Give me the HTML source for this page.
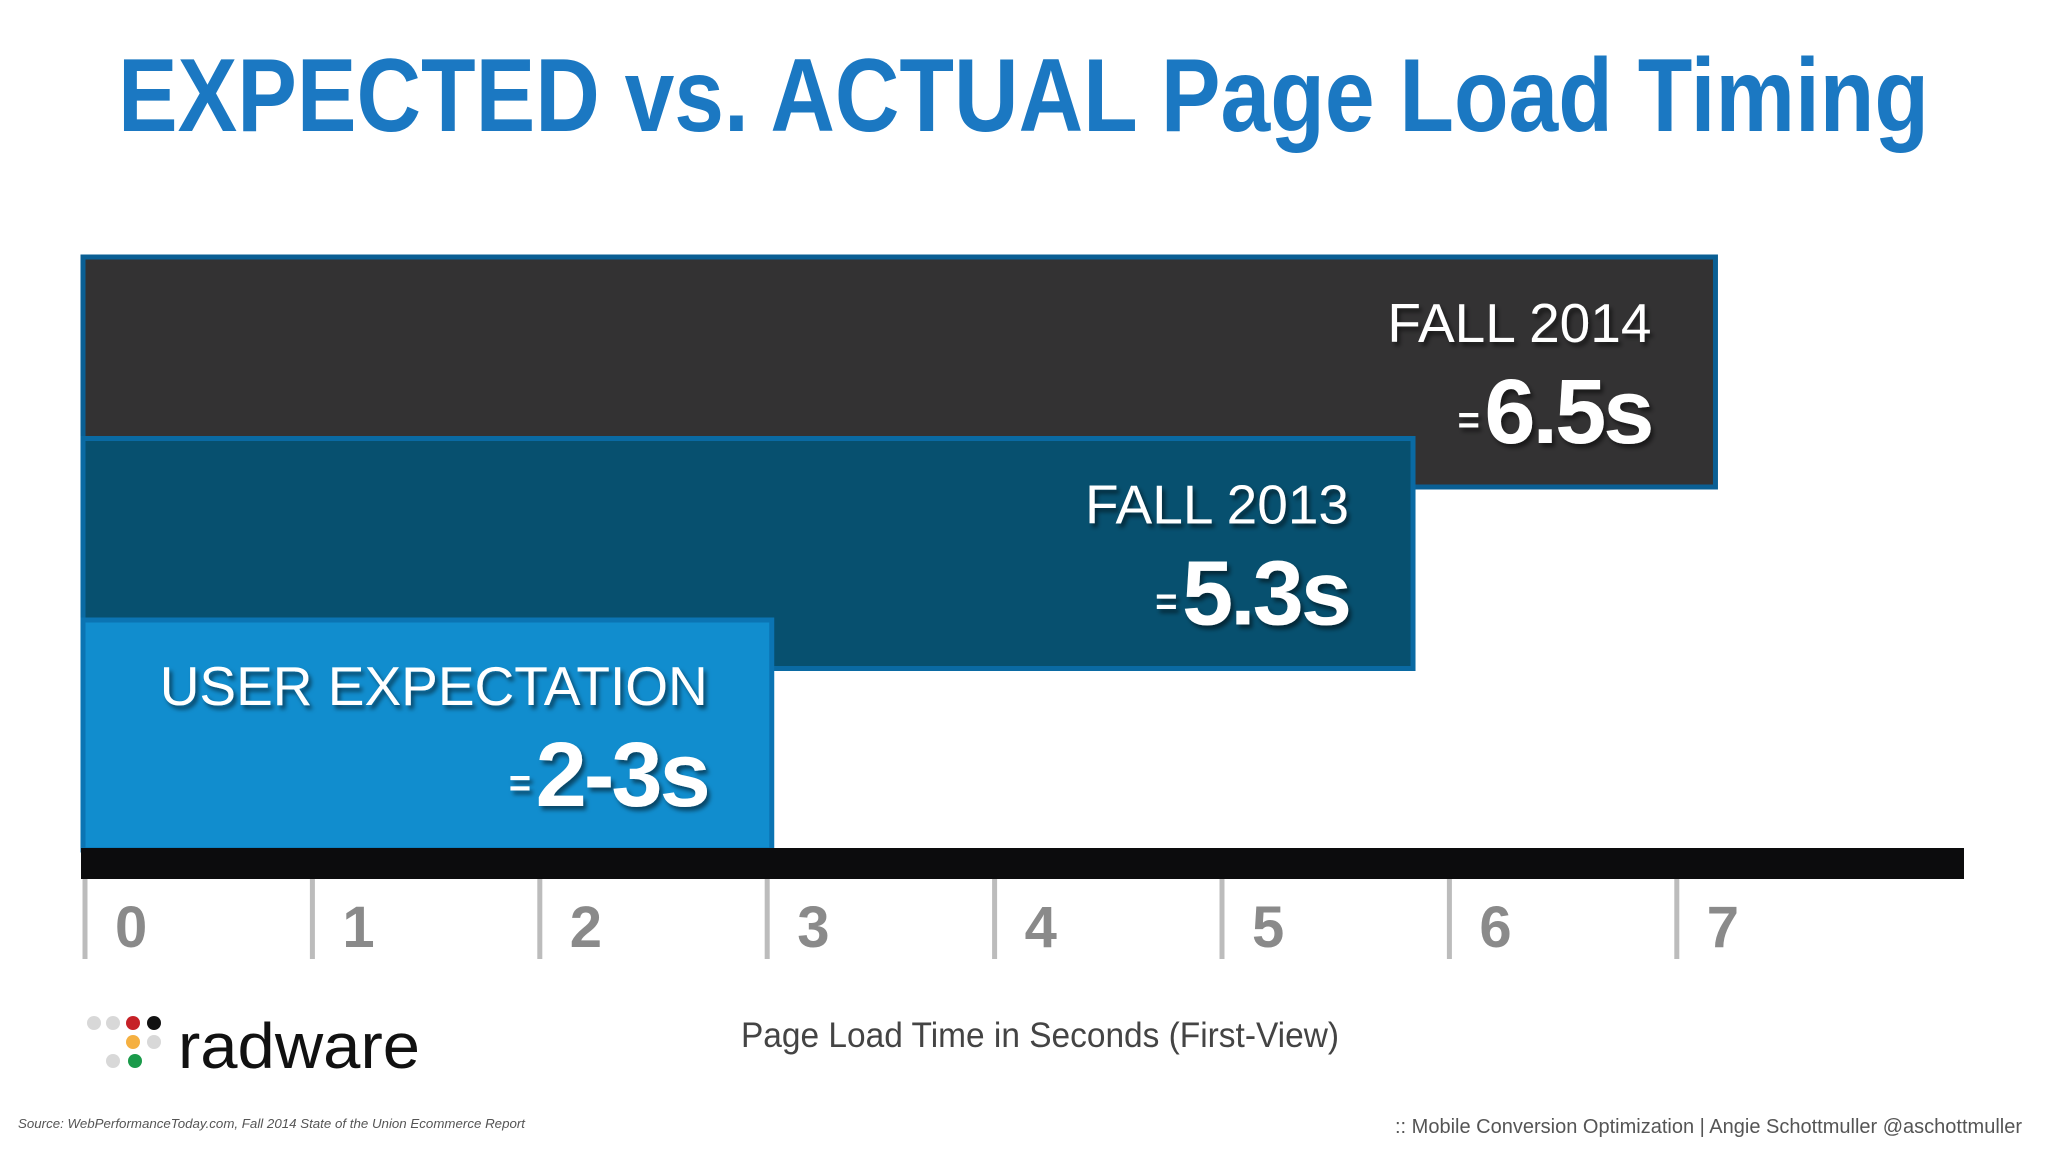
<!DOCTYPE html>
<html><head><meta charset="utf-8"><style>
html,body{margin:0;padding:0;background:#fff;}
svg{display:block;}
text{font-family:"Liberation Sans",sans-serif;}
</style></head><body>
<svg id="chart" width="2048" height="1152" viewBox="0 0 2048 1152" xmlns="http://www.w3.org/2000/svg">
<defs><filter id="sh" x="-10%" y="-10%" width="130%" height="140%"><feDropShadow dx="3" dy="4" stdDeviation="2" flood-color="#000" flood-opacity="0.5"/></filter></defs>
<rect width="2048" height="1152" fill="#fff"/>
<text x="118" y="131" font-size="104" font-weight="bold" fill="#1b78c2" textLength="1811" lengthAdjust="spacingAndGlyphs">EXPECTED vs. ACTUAL Page Load Timing</text>
<g id="bars"></g>
<rect x="81" y="848" width="1883" height="31" fill="#0c0c0d"/>
<g id="ticks"></g>
<text x="741" y="1047" font-size="35" fill="#444" textLength="598" lengthAdjust="spacingAndGlyphs">Page Load Time in Seconds  (First-View)</text>
<g>
<circle cx="94" cy="1023" r="7" fill="#d8d8d8"/><circle cx="113" cy="1023" r="7" fill="#d8d8d8"/><circle cx="133" cy="1023" r="7" fill="#c62127"/><circle cx="154" cy="1023" r="7" fill="#111"/>
<circle cx="133" cy="1042" r="7" fill="#f5b041"/><circle cx="154" cy="1042" r="7" fill="#d8d8d8"/>
<circle cx="113" cy="1061" r="7" fill="#d8d8d8"/><circle cx="135" cy="1061" r="7" fill="#1a9a4a"/>
<text x="178" y="1068" font-size="64" fill="#111" textLength="242" lengthAdjust="spacingAndGlyphs">radware</text>
</g>
<text x="18" y="1128" font-size="13" font-style="italic" fill="#555" textLength="507" lengthAdjust="spacingAndGlyphs">Source: WebPerformanceToday.com, Fall 2014 State of the Union Ecommerce Report</text>
<text x="1395" y="1133" font-size="20" fill="#555" textLength="627" lengthAdjust="spacingAndGlyphs">:: Mobile Conversion Optimization | Angie Schottmuller @aschottmuller</text>
</svg>
<script>
const categories = ["FALL 2014", "FALL 2013", "USER EXPECTATION"];
const valueLabels = ["6.5s", "5.3s", "2-3s"];
const barExtent = [7.17, 5.84, 3.02];
const tickValues = [0, 1, 2, 3, 4, 5, 6, 7];
const tickLabels = ["0", "1", "2", "3", "4", "5", "6", "7"];

const NS = "http://www.w3.org/2000/svg";
const x0 = 85, unit = 227.4;
function xScale(v){ return x0 + v * unit; }
const bandTop = 257, bandStep = 181.5, bandH = 230;
function yBand(i){ return bandTop + i * bandStep; }
const fills = ["#333233", "#07506f", "#118dce"];
const strokes = ["#0a5f94", "#0a6aa3", "#0b74b3"];
function mk(tag, attrs, parent){ const e = document.createElementNS(NS, tag); for (const k in attrs) e.setAttribute(k, attrs[k]); parent.appendChild(e); return e; }

const bars = document.getElementById("bars");
categories.forEach((c, i) => {
  const xl = 83, xr = xScale(barExtent[i]), y = yBand(i);
  const r = mk("rect", {x: xl, y: y, width: xr - xl, height: bandH, fill: fills[i], stroke: strokes[i], "stroke-width": 5}, bars);
  
  
  const tx = xr - 64;
  const t1 = mk("text", {x: tx, y: y + 85, "font-size": 55, fill: "#fff", "text-anchor": "end", filter: "url(#sh)"}, bars);
  t1.textContent = c;
  
  
  const t2 = mk("text", {x: tx, y: y + 186, "font-size": 92, "font-weight": "bold", fill: "#fff", "text-anchor": "end", filter: "url(#sh)", "letter-spacing": "-3"}, bars);
  const eq = mk("tspan", {"font-size": 38, dy: -10}, t2); eq.textContent = "= ";
  const v = mk("tspan", {dy: 10}, t2); v.textContent = valueLabels[i];
  
  
});

const ticks = document.getElementById("ticks");
tickValues.forEach((v, i) => {
  const x = xScale(v);
  const l = mk("rect", {x: x - 2.5, y: 879, width: 5, height: 80, fill: "#bcbcbc"}, ticks);
  
  
  const t = mk("text", {x: x + 30, y: 947, "font-size": 58, "font-weight": "bold", fill: "#8a8a8a"}, ticks);
  t.textContent = tickLabels[i];
  
  
});
</script>
</body></html>
